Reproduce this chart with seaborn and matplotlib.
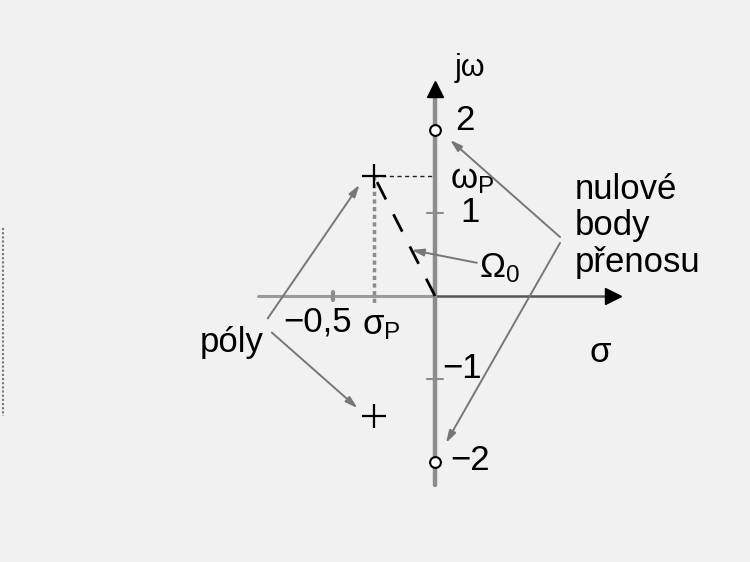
import matplotlib
matplotlib.use("Agg")
import matplotlib.pyplot as plt
import pandas as pd
import seaborn as sns

# pole / zero data (s-plane)
sigma_p = -0.30
omega_p = 1.45
poles_re = [sigma_p, sigma_p]
poles_im = [omega_p, -omega_p]
zeros_re = [0.0, 0.0]
zeros_im = [2.0, -2.0]

tick_x = [-0.5]
tick_x_labels = ["\u22120,5"]
tick_y = [2, 1, -1, -2]
tick_y_labels = ["2", "1", "\u22121", "\u22122"]

sns.set_theme(style="white")
plt.rcParams["font.family"] = ["Liberation Sans", "DejaVu Sans"]
plt.rcParams["text.color"] = "black"
plt.rcParams["mathtext.fontset"] = "custom"
plt.rcParams["mathtext.rm"] = "Liberation Sans"
plt.rcParams["mathtext.it"] = "Liberation Sans"

fig = plt.figure(figsize=(7.5, 5.62), dpi=100)
fig.patch.set_facecolor("#f1f1f1")
ax = fig.add_axes([0, 0, 1, 1])
ax.set_facecolor("#f1f1f1")
# 1 unit = 204 px horizontally, 83 px vertically; origin at (435, 296) px
ax.set_xlim(-435 / 204, (750 - 435) / 204)
ax.set_ylim(-(562 - 296) / 83, 296 / 83)
ax.set_axis_off()

fs = 25
grey = "#8c8c8c"

# axes of the s-plane
ax.plot([-0.87, 0.0], [0, 0], color="#9a9a9a", lw=2.2, zorder=1)
ax.plot([0.0, 0.85], [0, 0], color="#555555", lw=1.8, zorder=1)
ax.plot([0, 0], [-2.28, 2.45], color=grey, lw=3.2, zorder=1)
ax.plot([0], [2.5], marker="^", color="black", ms=12, zorder=3)
ax.plot([0.875], [0], marker=">", color="black", ms=12, zorder=3)

# ticks
for t in tick_x:
    ax.plot([t, t], [-0.05, 0.05], color=grey, lw=3)
for t in tick_y:
    if abs(t) == 1:
        ax.plot([-0.04, 0.04], [t, t], color=grey, lw=1.5)

# construction lines
ax.plot([sigma_p, sigma_p], [omega_p, -0.08], color=grey, lw=2.5, ls=(0, (1.2, 1.0)), zorder=1)
ax.plot([sigma_p, 0], [omega_p, omega_p], color="#222222", lw=1.0, ls=(0, (3, 2.5)), zorder=1)
ax.plot([0, sigma_p * 0.97], [0, omega_p * 0.97], color="black", lw=2.0, ls=(0, (7, 6)), zorder=2)

# poles and zeros
pz = pd.DataFrame({"re": poles_re, "im": poles_im})
zz = pd.DataFrame({"re": zeros_re, "im": zeros_im})
sns.scatterplot(data=pz, x="re", y="im", marker="+", s=300, color="black",
                linewidth=1.6, ax=ax, zorder=4)
sns.scatterplot(data=zz, x="re", y="im", marker="o", s=60, facecolor="white",
                edgecolor="black", linewidth=1.5, ax=ax, zorder=4)

# tick labels
ax.text(-0.574, -0.31, tick_x_labels[0], fontsize=fs, ha="center", va="center")
ypos = {2: (0.147, 2.12), 1: (0.172, 1.0), -1: (0.132, -0.87), -2: (0.172, -1.98)}
for t, lab in zip(tick_y, tick_y_labels):
    x, y = ypos[t]
    ax.text(x, y, lab, fontsize=fs, ha="center", va="center")

ax.text(0.172, 2.75, "j\u03c9", fontsize=22, ha="center", va="center")
ax.text(0.81, -0.68, "\u03c3", fontsize=fs, ha="center", va="center")
ax.text(0.075, 1.40, "\u03c9$_\\mathrm{P}$", fontsize=fs, ha="left", va="center")
ax.text(-0.36, -0.36, "\u03c3$_\\mathrm{P}$", fontsize=fs, ha="left", va="center")
ax.text(0.215, 0.33, "\u03a9$_\\mathrm{0}$", fontsize=fs, ha="left", va="center")
ax.text(-0.995, -0.56, "p\u00f3ly", fontsize=fs, ha="center", va="center")
ax.text(0.685, 1.28, "nulov\u00e9", fontsize=fs, ha="left", va="center")
ax.text(0.685, 0.85, "body", fontsize=fs, ha="left", va="center")
ax.text(0.685, 0.40, "p\u0159enosu", fontsize=fs, ha="left", va="center")

arrow = dict(arrowstyle="-|>,head_length=0.6,head_width=0.18", color="#777777", lw=1.4,
             shrinkA=0, shrinkB=0)
ax.annotate("", xy=(-0.37, 1.34), xytext=(-0.82, -0.27), arrowprops=arrow)
ax.annotate("", xy=(-0.38, -1.35), xytext=(-0.80, -0.44), arrowprops=arrow)
ax.annotate("", xy=(0.074, 1.88), xytext=(0.613, 0.71), arrowprops=arrow)
ax.annotate("", xy=(0.054, -1.77), xytext=(0.613, 0.64), arrowprops=arrow)
ax.annotate("", xy=(-0.115, 0.555), xytext=(0.205, 0.40), arrowprops=arrow)

# scan artefact at the left edge
ax.plot([-2.12, -2.12], [0.82, -1.45], color="#777777", lw=1.5, ls=(0, (1, 1)))

fig.savefig("out.png", dpi=100, facecolor=fig.get_facecolor())
